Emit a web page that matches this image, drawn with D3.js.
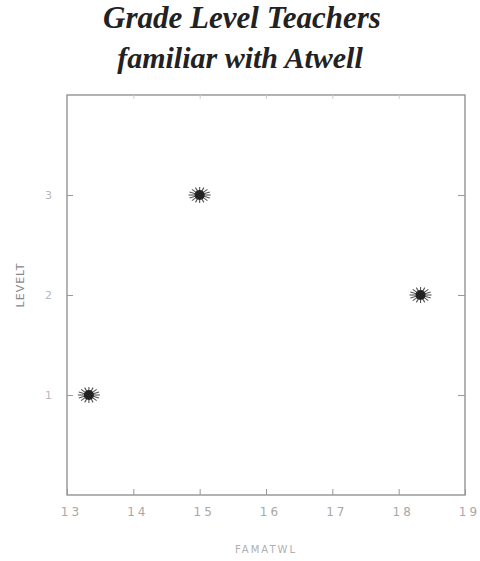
<!DOCTYPE html>
<html>
<head>
<meta charset="utf-8">
<title>Grade Level Teachers familiar with Atwell</title>
<script src="https://cdn.jsdelivr.net/npm/d3@7"></script>
<style>
  body { margin: 0; background: #fff; }
</style>
</head>
<body>
<script>
// data
const famatwl = [13.33, 15, 18.33];
const levelt = [1, 3, 2];
const xTicks = [13, 14, 15, 16, 17, 18, 19];
const yTicks = [1, 2, 3];

const width = 480, height = 561;
const margin = { top: 95, right: 15, bottom: 66, left: 67 };

const svg = d3.select("body").append("svg")
    .attr("width", width)
    .attr("height", height);

const x = d3.scaleLinear().domain([13, 19]).range([margin.left, width - margin.right]);
const y = d3.scaleLinear().domain([0, 4]).range([height - margin.bottom, margin.top]);

// title
const title = svg.append("text")
    .attr("text-anchor", "middle")
    .style("font-family", "'Liberation Serif', 'DejaVu Serif', serif")
    .style("font-weight", "bold")
    .style("font-style", "italic")
    .style("font-size", "31px")
    .style("fill", "#222");
title.append("tspan").attr("x", 242).attr("y", 28).text("Grade Level Teachers");
title.append("tspan").attr("x", 240).attr("y", 68).style("font-size", "30px").text("familiar with Atwell");

// frame
svg.append("rect")
    .attr("x", x(13)).attr("y", y(4))
    .attr("width", x(19) - x(13)).attr("height", y(0) - y(4))
    .attr("fill", "none")
    .attr("stroke", "#8a8a8a")
    .attr("stroke-width", 1.3);

const tickStyle = g => {
    g.select(".domain").remove();
    g.selectAll(".tick line").attr("stroke", "#999");
    g.selectAll(".tick text")
        .style("font-family", "'DejaVu Sans', sans-serif")
        .style("font-size", "12px")
        .style("letter-spacing", "3px")
        .attr("fill", "#a8a8a8");
};

// bottom axis (ticks pointing inward)
svg.append("g")
    .attr("transform", `translate(0,${y(0)})`)
    .call(d3.axisBottom(x).tickValues(xTicks).tickFormat(d3.format("d")).tickSizeInner(-6).tickPadding(12))
    .call(tickStyle)
    .call(g => g.selectAll(".tick text").attr("dx", "4px"));

// top axis ticks only
svg.append("g")
    .attr("transform", `translate(0,${y(4)})`)
    .call(d3.axisTop(x).tickValues(xTicks.slice(1, -1)).tickSizeInner(-4).tickFormat(""))
    .call(tickStyle)
    .call(g => g.selectAll(".tick line").attr("stroke", "#ccc"));

// left axis
svg.append("g")
    .attr("transform", `translate(${x(13)},0)`)
    .call(d3.axisLeft(y).tickValues(yTicks).tickFormat(d3.format("d")).tickSizeInner(-6).tickPadding(12))
    .call(tickStyle)
    .call(g => g.selectAll(".tick text").attr("fill", "#b8b8b8").style("font-size", "11px"));

// right axis ticks
svg.append("g")
    .attr("transform", `translate(${x(19)},0)`)
    .call(d3.axisRight(y).tickValues(yTicks).tickSizeInner(-7).tickFormat(""))
    .call(tickStyle);

// axis labels
svg.append("text")
    .attr("transform", `translate(24,${(y(0) + y(4)) / 2 - 10}) rotate(-90)`)
    .attr("text-anchor", "middle")
    .style("font-family", "'DejaVu Sans', sans-serif")
    .style("font-size", "11px")
    .style("letter-spacing", "1px")
    .attr("fill", "#888")
    .text("LEVELT");

svg.append("text")
    .attr("x", 266)
    .attr("y", 553)
    .attr("text-anchor", "middle")
    .style("font-family", "'DejaVu Sans', sans-serif")
    .style("font-size", "10px")
    .style("letter-spacing", "2px")
    .attr("fill", "#b0b0b0")
    .text("FAMATWL");

// markers: starburst with a dark centre
const pts = famatwl.map((d, i) => ({ x: d, y: levelt[i] }));
const spokes = d3.range(8).map(k => k * Math.PI / 8);
const marks = svg.selectAll("g.pt")
    .data(pts)
    .enter().append("g")
    .attr("class", "pt")
    .attr("transform", d => `translate(${x(d.x)},${y(d.y)})`);

marks.selectAll("line")
    .data(spokes)
    .enter().append("line")
    .attr("x1", a => -11 * Math.cos(a)).attr("y1", a => -8 * Math.sin(a))
    .attr("x2", a => 11 * Math.cos(a)).attr("y2", a => 8 * Math.sin(a))
    .attr("stroke", "#555")
    .attr("stroke-width", 1.1);

marks.append("circle")
    .attr("r", 5)
    .attr("fill", "#222");
</script>
</body>
</html>
